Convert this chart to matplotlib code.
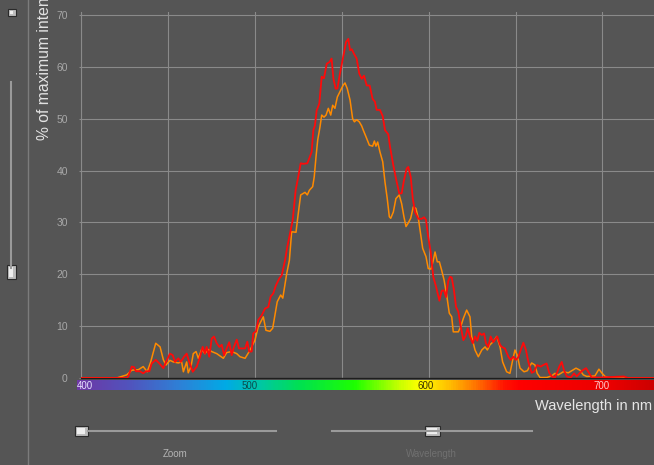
import numpy as np
import matplotlib.pyplot as plt
from matplotlib.colors import LinearSegmentedColormap
from matplotlib.lines import Line2D
from matplotlib.patches import FancyBboxPatch

W, H = 654, 465
BG = "#555555"
GRID = "#8a8a8a"

# ---- readings from the spectrometer screen (wavelength nm, % of max) ----
orange_nm = [400, 420.5, 426.3, 429.2, 433.0, 435.8, 438.1, 440.1, 443.0, 445.5,
             447.4, 448.9, 451.2, 453.1, 456.0, 457.9, 458.9, 460.8, 461.7, 463.3,
             464.6, 466.2, 467.5, 469.4, 471.3, 473.2, 475.2, 478.1, 481.9, 483.8,
             486.7, 489.6, 491.5, 494.4, 496.8, 498.2, 500.1, 502.0, 504.9, 506.4,
             508.7, 510.3, 512.9, 514.9, 516.1, 518.4, 519.9, 521.2, 523.7, 525.0,
             526.4, 528.9, 530.2, 531.4, 533.3, 534.2, 535.2, 536.2, 537.5, 538.5,
             539.8, 541.0, 542.3, 543.7, 544.8, 546.1, 547.5, 549.0, 550.9, 551.9,
             553.2, 554.8, 556.3, 557.3, 558.6, 560.1, 561.5, 562.4, 564.0, 565.9,
             567.8, 568.8, 569.7, 570.7, 572.0, 573.6, 574.9, 576.2, 577.4, 578.2,
             579.7, 581.2, 583.1, 584.5, 585.8, 587.0, 588.3, 589.7, 591.2, 592.7,
             594.1, 595.1, 596.6, 598.5, 599.8, 601.4, 602.7, 603.7, 605.0, 606.2,
             607.5, 608.9, 610.4, 611.9, 613.3, 614.2, 617.1, 618.5, 620.0, 621.9,
             623.8, 624.8, 626.7, 628.6, 630.6, 632.5, 633.8, 635.3, 637.2, 639.2,
             641.1, 642.6, 644.9, 646.8, 648.4, 649.7, 651.0, 652.6, 654.9, 656.8,
             659.3, 661.2, 662.5, 664.1, 668.0, 670.8, 672.7, 674.6, 677.5, 680.4,
             684.8, 687.1, 689.0, 691.0, 695.7, 698.0, 699.6, 701.5, 704.4, 730]
orange_val = [0, 0, 0.6, 1.5, 1.6, 2.2, 1.2, 3.1, 6.7, 6.0,
              3.5, 2.5, 3.4, 3.1, 2.9, 3.1, 1.2, 3.1, 1.0, 2.2,
              4.7, 5.1, 3.8, 5.5, 4.7, 5.5, 5.1, 4.7, 3.8, 4.9,
              5.1, 4.7, 4.1, 3.8, 5.1, 6.0, 7.3, 9.9, 11.8, 9.2,
              9.0, 9.6, 14.7, 16.0, 15.4, 20.2, 22.7, 28.2, 28.1, 31.7,
              35.3, 35.8, 35.3, 36.2, 36.9, 38.8, 42.6, 45.9, 48.4, 50.7,
              50.3, 50.7, 52.0, 50.7, 52.6, 52.0, 54.2, 55.2, 56.5, 56.9,
              55.8, 53.6, 50.0, 49.4, 49.8, 49.4, 48.6, 47.8, 46.5, 44.9,
              44.7, 45.7, 44.7, 45.5, 43.6, 41.7, 37.8, 34.6, 31.1, 30.8,
              32.0, 34.6, 35.3, 33.6, 31.1, 29.2, 29.9, 30.8, 33.0, 32.7,
              30.8, 28.5, 25.0, 23.4, 21.1, 21.0, 22.7, 24.3, 22.4, 22.4,
              20.8, 18.9, 16.0, 12.5, 11.8, 8.9, 8.9, 9.9, 11.5, 13.1,
              11.8, 8.0, 5.4, 4.1, 5.4, 6.0, 5.4, 6.4, 7.0, 8.0,
              6.0, 3.1, 1.2, 0.9, 3.5, 5.4, 4.4, 1.9, 1.2, 1.4,
              2.9, 2.5, 0.9, 0.1, 0.1, 0.4, 0.9, 0.6, 1.2, 1.0,
              1.9, 1.5, 0.6, 0.3, 0.4, 1.7, 1.0, 0.3, 0, 0]

red_nm = [400, 426.3, 427.2, 429.2, 430.5, 431.6, 433.9, 435.8, 437.4, 439.3,
          440.7, 443.0, 445.1, 447.4, 448.9, 451.2, 452.8, 454.1, 456.0, 457.4,
          459.3, 460.8, 462.3, 464.3, 466.6, 468.5, 470.0, 471.3, 472.3, 473.8,
          475.2, 476.5, 478.1, 479.6, 481.0, 482.3, 483.8, 485.3, 486.7, 488.0,
          489.6, 490.9, 492.5, 494.4, 495.7, 496.8, 498.2, 499.1, 500.7, 502.0,
          504.0, 505.9, 507.8, 509.1, 510.6, 512.2, 514.1, 515.5, 517.4, 518.7,
          520.3, 521.8, 523.5, 525.0, 526.4, 527.9, 530.2, 531.4, 532.7, 533.7,
          534.6, 535.6, 537.1, 538.5, 539.8, 541.4, 542.9, 544.2, 545.2, 546.5,
          547.5, 549.0, 550.9, 552.5, 553.8, 554.8, 555.8, 557.1, 558.6, 560.1,
          561.5, 562.8, 564.4, 566.1, 567.8, 569.1, 570.1, 572.0, 573.6, 574.9,
          576.8, 577.8, 579.7, 581.2, 583.1, 584.5, 585.8, 587.4, 588.3, 589.7,
          590.9, 592.2, 594.1, 596.0, 597.4, 598.5, 599.8, 601.2, 602.7, 604.3,
          606.2, 607.5, 608.9, 610.0, 611.3, 612.3, 613.3, 614.6, 615.8, 617.1,
          618.5, 620.0, 621.3, 622.5, 623.8, 625.4, 626.7, 628.0, 629.2, 630.6,
          631.9, 633.0, 634.3, 635.7, 637.2, 638.2, 639.5, 641.1, 642.1, 643.9,
          645.9, 647.2, 648.7, 650.3, 651.6, 653.0, 654.5, 656.0, 657.4, 659.3,
          660.6, 662.5, 664.5, 666.0, 667.9, 669.4, 670.8, 672.7, 674.1, 675.2,
          676.6, 677.9, 679.5, 681.8, 683.7, 685.2, 687.1, 688.7, 690.6, 691.9,
          693.8, 698.6, 712.4, 714.7, 730]
red_val = [0, 0, 0.3, 2.2, 2.1, 1.3, 1.3, 0.9, 1.3, 1.3,
           2.8, 3.5, 2.8, 1.9, 3.1, 4.7, 4.4, 3.1, 3.8, 3.1,
           4.1, 4.7, 3.1, 1.2, 2.2, 4.1, 6.0, 4.7, 6.0, 4.1,
           7.6, 8.0, 6.7, 6.0, 6.4, 4.4, 5.7, 6.9, 4.4, 6.0,
           7.4, 5.7, 5.7, 5.7, 7.0, 5.1, 5.1, 8.6, 9.0, 11.2,
           12.1, 13.4, 13.7, 15.7, 16.3, 17.9, 19.2, 19.8, 22.7, 25.3,
           27.9, 30.4, 36.2, 38.8, 41.4, 41.3, 41.4, 42.4, 43.6, 47.8,
           48.7, 51.6, 52.9, 58.1, 57.8, 60.6, 60.9, 61.6, 57.8, 55.8,
           55.8, 58.7, 62.0, 64.8, 65.4, 63.2, 63.4, 62.5, 61.6, 58.7,
           57.7, 58.3, 56.4, 56.4, 53.8, 53.3, 51.7, 51.7, 50.5, 47.8,
           47.0, 44.6, 41.0, 38.5, 35.6, 35.6, 38.1, 40.4, 40.7, 38.8,
           34.6, 32.0, 30.7, 30.7, 31.0, 30.5, 27.2, 24.3, 19.5, 17.6,
           14.9, 16.8, 16.9, 15.6, 18.7, 19.5, 19.4, 16.9, 13.7, 12.8,
           9.9, 7.3, 8.1, 9.6, 8.0, 6.7, 8.0, 7.2, 8.7, 8.3,
           8.6, 6.7, 6.0, 8.0, 6.9, 7.4, 8.0, 6.4, 6.0, 5.7,
           4.1, 3.5, 4.1, 3.5, 4.0, 5.4, 6.8, 5.4, 3.1, 1.0,
           1.2, 2.5, 2.2, 2.5, 2.8, 1.0, 0.3, 0.1, 1.2, 2.2,
           3.1, 1.5, 0.3, 0.1, 0.9, 0.3, 1.0, 1.5, 1.9, 1.2,
           0.1, 0.1, 0.3, 0, 0]

y_ticks = [0, 10, 20, 30, 40, 50, 60, 70]
x_grid = [400, 450, 500, 550, 600, 650, 700]
bar_ticks = [400, 500, 600, 700]
bar_tick_colors = ["#e6e0ff", "#0b4c4c", "#3a3300", "#ffc8c8"]

# spectrum strip colours (nm -> rgb)
spec_nm = [401.6, 431.7, 460.2, 485.8, 506.8, 528.4, 559.7, 585.3, 596.7,
           613.7, 628.0, 645.0, 653.6, 704.8, 729.8]
spec_rgb = [(110, 55, 165), (80, 85, 190), (45, 130, 215), (0, 170, 230),
            (0, 200, 160), (0, 225, 80), (30, 255, 0), (200, 255, 0),
            (255, 255, 0), (255, 190, 0), (255, 120, 0), (255, 20, 0),
            (255, 0, 0), (235, 0, 0), (205, 0, 0)]

plt.rcParams["font.family"] = ["Liberation Sans", "DejaVu Sans"]


def fx(px):
    return px / W


def fy(py):
    return 1 - py / H


fig = plt.figure(figsize=(W / 100, H / 100), dpi=100, facecolor=BG)

# ---- main plot ----
ax = fig.add_axes([fx(81), fy(378), (654 - 81) / W, (378 - 12.4) / H])
ax.set_facecolor(BG)
ax.plot(orange_nm, orange_val, color="#ff8a00", lw=1.1, zorder=3)
ax.plot(red_nm, red_val, color="#ff0a0a", lw=1.3, zorder=4)
ax.set_xlim(400, 400 + 573 / 1.738)
ax.set_ylim(0, 70.5)
ax.set_yticks(y_ticks)
ax.set_xticks(x_grid)
ax.tick_params(axis="x", length=0, labelbottom=False)
ax.tick_params(axis="y", length=1.5, width=0.8, color=GRID, pad=8,
               labelsize=7.5, labelcolor="#a8a8a8")
ax.grid(True, color=GRID, lw=0.8)
ax.set_axisbelow(True)
for s in ["top", "right"]:
    ax.spines[s].set_visible(False)
ax.spines["left"].set_color(GRID)
ax.spines["left"].set_linewidth(0.8)
ax.spines["bottom"].set_color("#1e1e1e")
ax.spines["bottom"].set_linewidth(1.0)

# the label runs off the top of the window, as on the original screen
fig.text(fx(45), fy(140), "% of maximum intensity", rotation=90,
         ha="center", va="bottom", fontsize=11.3, color="#e2e2e2")

# ---- spectrum strip ----
bax = fig.add_axes([fx(77), fy(390), (654 - 77) / W, 10 / H])
cmap = LinearSegmentedColormap.from_list(
    "spec", [((n - spec_nm[0]) / (spec_nm[-1] - spec_nm[0]),
              tuple(c / 255 for c in rgb)) for n, rgb in zip(spec_nm, spec_rgb)])
grad = np.linspace(0, 1, 600)[None, :]
bax.imshow(grad, cmap=cmap, aspect="auto",
           extent=[spec_nm[0], spec_nm[-1], 0, 1])
bax.set_xlim(spec_nm[0], spec_nm[-1])
bax.set_ylim(0, 1)
bax.axis("off")
for nm, col in zip(bar_ticks, bar_tick_colors):
    if nm == 400:
        bax.text(spec_nm[0], 0.45, str(nm), ha="left", va="center",
                 fontsize=7, color=col)
    else:
        bax.text(nm, 0.45, str(nm), ha="center", va="center",
                 fontsize=7, color=col)

fig.text(fx(652), fy(406), "Wavelength in nm", ha="right", va="center",
         fontsize=10.5, color="#e6e6e6")


# ---- window controls (sliders) ----
def hline(x0, x1, y, color="#9a9a9a", lw=1.5):
    fig.add_artist(Line2D([fx(x0), fx(x1)], [fy(y), fy(y)], color=color, lw=lw))


def vline(x, y0, y1, color="#9a9a9a", lw=1.5):
    fig.add_artist(Line2D([fx(x), fx(x)], [fy(y0), fy(y1)], color=color, lw=lw))


def knob(x0, y0, w, h):
    fig.add_artist(FancyBboxPatch((fx(x0), fy(y0 + h)), w / W, h / H,
                                  boxstyle="square,pad=0", fc="#bdbdbd",
                                  ec="#2a2a2a", lw=0.8))
    fig.add_artist(FancyBboxPatch((fx(x0 + 2), fy(y0 + h - 2)), (w - 5) / W,
                                  (h - 4) / H, boxstyle="square,pad=0",
                                  fc="#eeeeee", ec="none"))


vline(28, 0, 465, color="#7c7c7c", lw=1.0)
vline(11, 82, 268)
knob(7, 265, 9, 14)
knob(8, 9, 8, 7)

hline(88, 276, 431)
knob(75, 426, 13, 10)
fig.text(fx(175), fy(454), "Zoom", ha="center", va="center",
         fontsize=7, color="#b4b4b4")

hline(332, 532, 431)
knob(425, 426, 15, 10)
fig.text(fx(431), fy(454), "Wavelength", ha="center", va="center",
         fontsize=7, color="#707070")

fig.savefig("out.png", dpi=100, facecolor=BG)
